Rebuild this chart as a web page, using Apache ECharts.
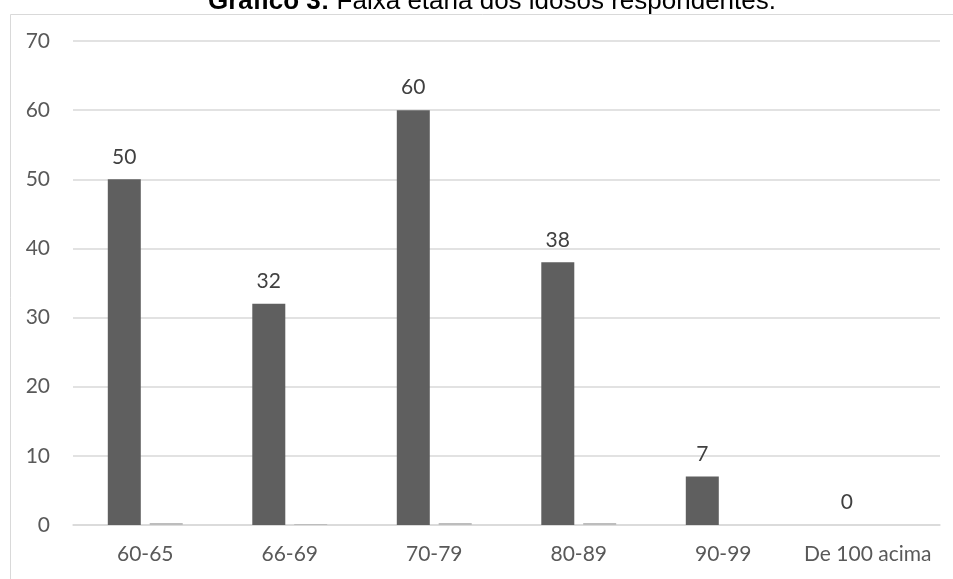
<!DOCTYPE html>
<html>
<head>
<meta charset="utf-8">
<script src="https://cdn.jsdelivr.net/npm/echarts@6/dist/echarts.min.js"></script>
<style>
  html, body { margin: 0; padding: 0; background: #ffffff; }
  #chart { width: 953px; height: 579px; }
</style>
</head>
<body>
<div id="chart"></div>
<script>
// Faixa etária dos idosos respondentes
const categories = ['60-65', '66-69', '70-79', '80-89', '90-99', 'De 100 acima'];
const respondentes = [50, 32, 60, 38, 7, 0];
const serieSecundaria = [0.3, 0.15, 0.3, 0.3, 0, 0];
const yTicks = { min: 0, max: 70, interval: 10 };

const chart = echarts.init(document.getElementById('chart'), null, { renderer: 'canvas' });
const baseFont = 'Lato, "Open Sans", sans-serif';

chart.setOption({
  backgroundColor: '#ffffff',
  animation: false,
  graphic: [
    {
      type: 'rect',
      left: 8, top: 12,
      shape: { x: 0.5, y: 0.5, width: 1000, height: 700 },
      style: { fill: 'none', stroke: '#d9d9d9', lineWidth: 1 },
      silent: true, z: -1
    },
    {
      type: 'text',
      x: 492, y: -11,
      style: {
        text: '{b|Gráfico 3:} Faixa etária dos idosos respondentes.',
        align: 'center',
        verticalAlign: 'top',
        font: '26px "Liberation Sans", Arial, sans-serif',
        fill: '#000000',
        rich: {
          b: { fontWeight: 'bold', fontSize: 26, fontFamily: '"Liberation Sans", Arial, sans-serif', fill: '#000000' }
        }
      },
      silent: true
    }
  ],
  grid: { left: 73, right: 13, top: 41, bottom: 54, containLabel: false },
  xAxis: {
    type: 'category',
    data: categories,
    axisLine: { show: true, lineStyle: { color: '#d9d9d9', width: 1.5 } },
    axisTick: { show: false },
    axisLabel: { interval: 0, color: '#595959', fontFamily: baseFont, fontSize: 21, margin: 19 },
    splitLine: { show: false }
  },
  yAxis: {
    type: 'value',
    min: yTicks.min, max: yTicks.max, interval: yTicks.interval,
    axisLine: { show: false },
    axisTick: { show: false },
    axisLabel: { color: '#595959', fontFamily: baseFont, fontSize: 21, margin: 23 },
    splitLine: { show: true, lineStyle: { color: '#d9d9d9', width: 1.5 } }
  },
  series: [
    {
      name: 'Respondentes',
      type: 'bar',
      data: respondentes,
      barWidth: 33,
      barGap: '27%',
      itemStyle: { color: '#5f5f5f' },
      label: {
        show: true, position: 'top', distance: 12,
        color: '#404040', fontFamily: baseFont, fontSize: 21
      }
    },
    {
      name: 'Série 2',
      type: 'bar',
      data: serieSecundaria,
      barWidth: 33,
      itemStyle: { color: '#bdbdbd' }
    }
  ]
});
</script>
</body>
</html>
